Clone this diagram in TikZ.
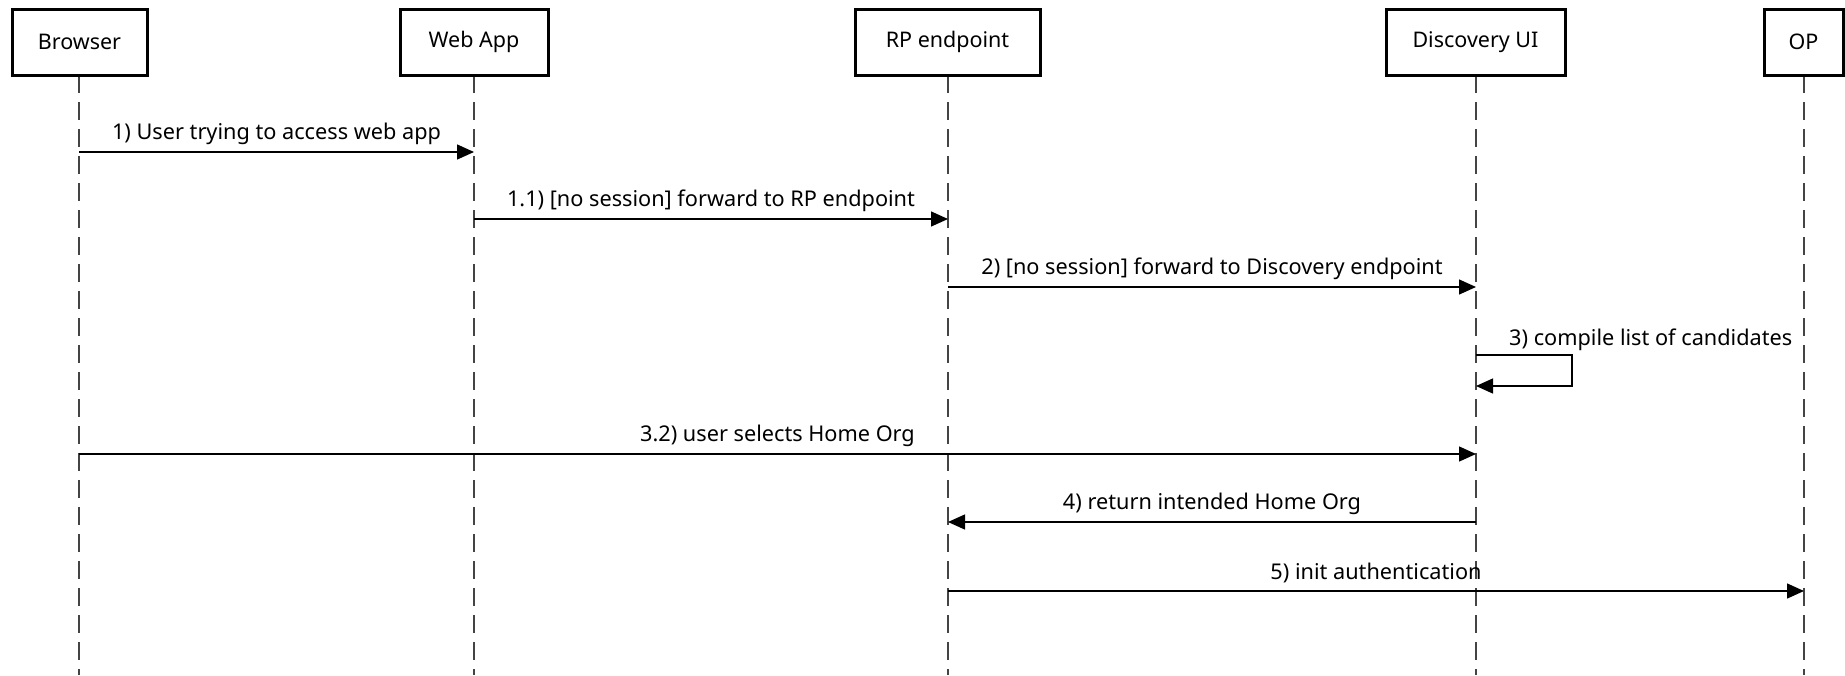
\documentclass[tikz,border=0pt]{standalone}
\usepackage{fontspec}
\setmainfont{Noto Sans}
\usetikzlibrary{arrows.meta}
\definecolor{linegray}{HTML}{444444}
\tikzset{
  actor/.style={draw=black, line width=3pt, fill=white, minimum height=66pt, inner sep=0pt, font=\fontsize{21.5}{24}\selectfont},
  lifeline/.style={draw=linegray, line width=2pt, dash pattern=on 18pt off 9pt},
  msg/.style={draw=black, line width=1.4pt, -{Triangle[length=17pt,width=15pt]}},
  lbl/.style={font=\fontsize{21.7}{24}\selectfont, inner sep=0pt, anchor=base}
}
\begin{document}
\begin{tikzpicture}[x=1pt,y=-1pt]
\useasboundingbox (0,0) rectangle (1845,675);
% lifelines
\foreach \n/\x in {br/79, wa/474, rp/948, du/1476, op/1804} {
  \coordinate (\n top) at (\x,75);
  \coordinate (\n bot) at (\x,675);
  \draw[lifeline] (\n top) -- (\n bot);
}
% actors
\node[actor, minimum width=135pt] (browser) at (79.5,42) {Browser};
\node[actor, minimum width=148pt] (webapp) at (474,42) {Web App};
\node[actor, minimum width=185pt] (rpend) at (947.5,42) {RP endpoint};
\node[actor, minimum width=179pt] (discui) at (1475.5,42) {Discovery UI};
\node[actor, minimum width=79pt] (opbox) at (1803.5,42) {OP};
% message points
\coordinate (m1a) at (79,152);  \coordinate (m1b) at (474,152);
\coordinate (m2a) at (474,219); \coordinate (m2b) at (948,219);
\coordinate (m3a) at (948,287); \coordinate (m3b) at (1476,287);
\coordinate (s1) at (1476,355); \coordinate (s2) at (1572,355);
\coordinate (s3) at (1572,386); \coordinate (s4) at (1476,386);
\coordinate (m5a) at (79,454);  \coordinate (m5b) at (1476,454);
\coordinate (m6a) at (1476,522); \coordinate (m6b) at (948,522);
\coordinate (m7a) at (948,591); \coordinate (m7b) at (1804,591);
% messages
\draw[msg] (m1a) -- node[lbl, above=7pt] {1) User trying to access web app} (m1b);
\draw[msg] (m2a) -- node[lbl, above=7pt] {1.1) [no session] forward to RP endpoint} (m2b);
\draw[msg] (m3a) -- node[lbl, above=7pt] {2) [no session] forward to Discovery endpoint} (m3b);
\draw[msg] (s1) -- (s2) -- (s3) -- (s4);
\node[lbl, anchor=base west] (selflbl) at (1509,345) {3) compile list of candidates};
\draw[msg] (m5a) -- node[lbl, above=7pt] {3.2) user selects Home Org} (m5b);
\draw[msg] (m6a) -- node[lbl, above=7pt] {4) return intended Home Org} (m6b);
\draw[msg] (m7a) -- node[lbl, above=7pt] {5) init authentication} (m7b);
\end{tikzpicture}
\end{document}
